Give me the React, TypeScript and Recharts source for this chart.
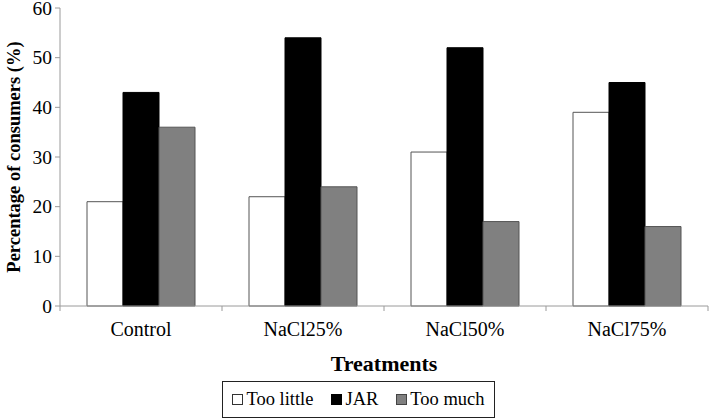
import { Bar, BarChart, Label, XAxis, YAxis } from "recharts";

const categories = ["Control", "NaCl25%", "NaCl50%", "NaCl75%"];
const tooLittle = [21, 22, 31, 39];
const jar = [43, 54, 52, 45];
const tooMuch = [36, 24, 17, 16];
const yTicks = [0, 10, 20, 30, 40, 50, 60];

const data = categories.map((name, i) => ({
  name,
  tooLittle: tooLittle[i],
  jar: jar[i],
  tooMuch: tooMuch[i],
}));

const FONT = "'Liberation Serif', 'Times New Roman', serif";
const AXIS = "#9a9a9a";
const TICK_SIZE = 5;
const TICK_MARGIN = 6;

function CategoryTick(props: any) {
  const { x, y, payload } = props;
  const axisY = y - TICK_SIZE - TICK_MARGIN;
  const half = payload.offset ?? 0;
  return (
    <g>
      <line x1={x - half} x2={x - half} y1={axisY} y2={axisY + 5} stroke={AXIS} />
      {payload.index === categories.length - 1 && (
        <line x1={x + half} x2={x + half} y1={axisY} y2={axisY + 5} stroke={AXIS} />
      )}
      <text
        x={x}
        y={axisY + 30}
        textAnchor="middle"
        style={{ fontFamily: FONT, fontSize: 20, fill: "#000" }}
      >
        {payload.value}
      </text>
    </g>
  );
}

function ValueTick(props: any) {
  const { x, y, payload } = props;
  return (
    <text
      x={x}
      y={y}
      textAnchor="end"
      dominantBaseline="central"
      style={{ fontFamily: FONT, fontSize: 19.5, fill: "#000" }}
    >
      {payload.value}
    </text>
  );
}

const legendItems = [
  { label: "Too little", fill: "#fff", stroke: "#333" },
  { label: "JAR", fill: "#000", stroke: "#000" },
  { label: "Too much", fill: "#808080", stroke: "#444" },
];

export default function App() {
  return (
    <div
      style={{
        position: "absolute",
        left: 0,
        top: 0,
        width: 709,
        height: 420,
        background: "#fff",
        fontFamily: FONT,
      }}
    >
      <BarChart
        width={709}
        height={420}
        data={data}
        margin={{ top: 8, right: 1, bottom: 55, left: 0 }}
        barCategoryGap={27}
        barGap={0}
        style={{ fontFamily: FONT }}
      >
        <XAxis
          dataKey="name"
          height={59}
          axisLine={{ stroke: AXIS }}
          tickLine={false}
          tickSize={TICK_SIZE}
          tickMargin={TICK_MARGIN}
          tick={<CategoryTick />}
          interval={0}
        >
          <Label
            value="Treatments"
            position="insideBottom"
            offset={-6}
            style={{
              fontFamily: FONT,
              fontSize: 22,
              fontWeight: "bold",
              fill: "#000",
            }}
          />
        </XAxis>
        <YAxis
          width={60}
          domain={[0, 60]}
          ticks={yTicks}
          interval={0}
          axisLine={{ stroke: AXIS }}
          tickLine={{ stroke: AXIS }}
          tickSize={5}
          tickMargin={3}
          tick={<ValueTick />}
        >
          <Label
            content={(p: any) => {
              const vb = p.viewBox;
              const cy = vb.y + vb.height / 2;
              return (
                <text
                  x={14}
                  y={cy}
                  transform={`rotate(-90, 14, ${cy})`}
                  textAnchor="middle"
                  dominantBaseline="central"
                  style={{
                    fontFamily: FONT,
                    fontSize: 18.5,
                    fontWeight: "bold",
                    fill: "#000",
                  }}
                >
                  Percentage of consumers (%)
                </text>
              );
            }}
          />
        </YAxis>
        <Bar
          dataKey="tooLittle"
          fill="#fff"
          stroke="#555"
          strokeWidth={1}
          isAnimationActive={false}
        />
        <Bar
          dataKey="jar"
          fill="#000"
          stroke="#000"
          strokeWidth={1}
          isAnimationActive={false}
        />
        <Bar
          dataKey="tooMuch"
          fill="#808080"
          stroke="#555"
          strokeWidth={1}
          isAnimationActive={false}
        />
      </BarChart>
      <div
        style={{
          position: "absolute",
          left: 222,
          top: 381,
          width: 273,
          height: 37,
          border: "1.5px solid #222",
          boxSizing: "border-box",
          display: "flex",
          alignItems: "center",
          justifyContent: "center",
          gap: 18,
          fontFamily: FONT,
          fontSize: 18.5,
          color: "#000",
        }}
      >
        {legendItems.map((it) => (
          <div
            key={it.label}
            style={{ display: "flex", alignItems: "center", gap: 3 }}
          >
            <span
              style={{
                display: "inline-block",
                width: 9,
                height: 9,
                background: it.fill,
                border: `1px solid ${it.stroke}`,
              }}
            />
            <span>{it.label}</span>
          </div>
        ))}
      </div>
    </div>
  );
}
